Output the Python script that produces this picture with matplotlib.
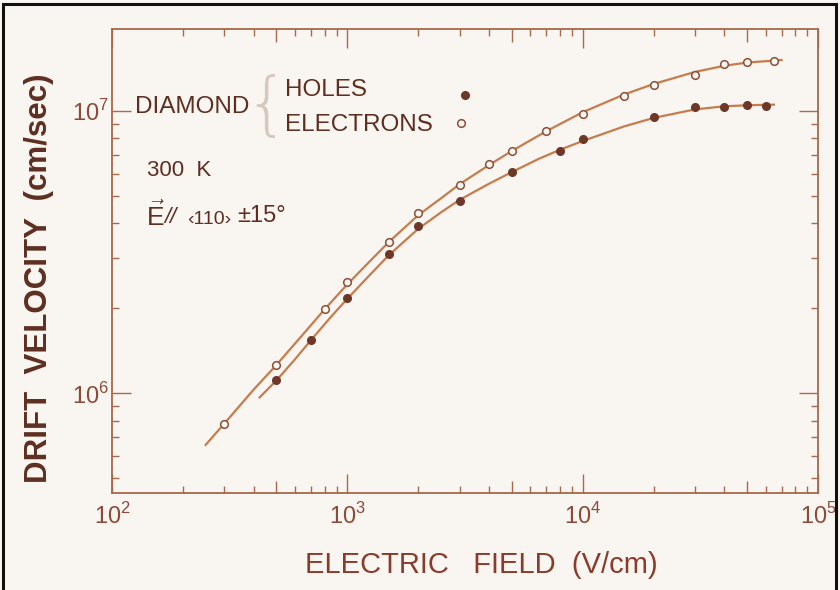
import matplotlib
matplotlib.use("Agg")
import matplotlib.pyplot as plt
from matplotlib.patches import Rectangle
from matplotlib.ticker import LogLocator, NullFormatter, FixedLocator, FixedFormatter

plt.rcParams['font.family'] = ['Liberation Sans', 'DejaVu Sans']
plt.rcParams['mathtext.fontset'] = 'custom'
plt.rcParams['mathtext.rm'] = 'Liberation Sans'
plt.rcParams['mathtext.sf'] = 'Liberation Sans'

# measured drift velocity (cm/sec) vs electric field (V/cm), diamond at 300 K
field_elec = [300, 500, 800, 1000, 1500, 2000, 3000, 4000, 5000, 7000,
              1e4, 1.5e4, 2e4, 3e4, 4e4, 5e4, 6.5e4]
v_elec = [7.8e5, 1.26e6, 1.99e6, 2.48e6, 3.44e6, 4.33e6, 5.48e6, 6.46e6, 7.2e6, 8.5e6,
          9.78e6, 1.13e7, 1.23e7, 1.34e7, 1.46e7, 1.49e7, 1.50e7]

field_hole = [500, 700, 1000, 1500, 2000, 3000, 5000, 8000, 1e4,
              2e4, 3e4, 4e4, 5e4, 6e4]
v_hole = [1.11e6, 1.54e6, 2.18e6, 3.11e6, 3.91e6, 4.81e6, 6.07e6, 7.23e6, 7.93e6,
          9.55e6, 1.03e7, 1.035e7, 1.05e7, 1.04e7]

# smooth curves drawn through each set
fit_field_elec = [250, 300, 400, 500, 650, 800, 1000, 1250, 1500, 2000, 2500, 3000,
                  4000, 5000, 7000, 1e4, 1.5e4, 2e4, 3e4, 4e4, 5e4, 7e4]
fit_v_elec = [6.56e5, 7.80e5, 1.03e6, 1.26e6, 1.62e6, 1.98e6, 2.43e6, 2.94e6, 3.43e6,
              4.27e6, 4.90e6, 5.50e6, 6.43e6, 7.21e6, 8.47e6, 9.89e6, 1.143e7,
              1.245e7, 1.374e7, 1.445e7, 1.483e7, 1.514e7]

fit_field_hole = [424, 500, 600, 700, 850, 1000, 1250, 1500, 2000, 2500, 3000, 4000,
                  5000, 6500, 8000, 1e4, 1.5e4, 2e4, 3e4, 4e4, 5e4, 6.5e4]
fit_v_hole = [9.66e5, 1.11e6, 1.32e6, 1.54e6, 1.86e6, 2.16e6, 2.63e6, 3.08e6, 3.82e6,
              4.37e6, 4.84e6, 5.52e6, 6.07e6, 6.76e6, 7.28e6, 7.82e6, 8.81e6, 9.44e6,
              1.012e7, 1.038e7, 1.047e7, 1.052e7]

xticks = [1e2, 1e3, 1e4, 1e5]
xtick_labels = [r'$10^{2}$', r'$10^{3}$', r'$10^{4}$', r'$10^{5}$']
yticks = [1e6, 1e7]
ytick_labels = [r'$10^{6}$', r'$10^{7}$']
half_decades = [5e2, 5e3, 5e4]

paper = '#f9f5f1'
ink = '#5e2f20'
line_col = '#c67c4c'
axis_col = '#a8684a'
label_col = '#8c4a38'

fig = plt.figure(figsize=(8.4, 5.9), dpi=100, facecolor=paper)
ax = fig.add_axes([112/840, 1 - 493/590, (818 - 112)/840, (493 - 29)/590])
ax.set_facecolor(paper)
ax.set_xscale('log')
ax.set_yscale('log')
ax.set_xlim(1e2, 1e5)
ax.set_ylim(4.43e5, 1.95e7)

ax.plot(fit_field_elec, fit_v_elec, color=line_col, lw=1.6, zorder=2)
ax.plot(fit_field_hole, fit_v_hole, color=line_col, lw=1.6, zorder=2)
ax.plot(field_elec, v_elec, 'o', ms=5.5, mfc=paper, mec='#8a5038', mew=1.1, zorder=3)
ax.plot(field_hole, v_hole, 'o', ms=5.5, mfc='#6e3828', mec='#6e3828', zorder=3)

for s in ax.spines.values():
    s.set_color(axis_col)
    s.set_linewidth(1.3)

ax.xaxis.set_major_locator(FixedLocator(xticks))
ax.xaxis.set_major_formatter(FixedFormatter(xtick_labels))
ax.yaxis.set_major_locator(FixedLocator(yticks))
ax.yaxis.set_major_formatter(FixedFormatter(ytick_labels))
ax.xaxis.set_minor_locator(LogLocator(base=10, subs=(2, 3, 4, 6, 7, 8, 9)))
ax.yaxis.set_minor_locator(LogLocator(base=10, subs=(2, 3, 4, 5, 6, 7, 8, 9)))
ax.xaxis.set_minor_formatter(NullFormatter())
ax.yaxis.set_minor_formatter(NullFormatter())
ax.tick_params(which='both', direction='in', top=True, right=True,
               color=axis_col, width=1.0, labelcolor=label_col, labelsize=17)
ax.tick_params(which='major', length=14)
ax.tick_params(which='minor', length=5)
ax.tick_params(axis='x', which='major', pad=7)
ax.tick_params(axis='y', which='major', pad=2)

# longer ticks at 5 x 10^n on top and bottom
for loc in ('bottom', 'top'):
    sec = ax.secondary_xaxis(loc)
    sec.set_xticks(half_decades)
    sec.set_xticklabels([])
    sec.xaxis.set_minor_locator(FixedLocator([]))
    sec.tick_params(which='major', direction='in', length=9, width=1.0, color=axis_col)
    for s in sec.spines.values():
        s.set_visible(False)

fig.text(39/840, 1 - 278/590, 'DRIFT  VELOCITY  (cm/sec)', rotation=90,
         ha='center', va='center', fontsize=22.5, color=ink, fontweight='bold')
fig.text(481/840, 1 - 565/590, 'ELECTRIC   FIELD  (V/cm)', ha='center', va='center',
         fontsize=21, color='#8a3c2c')

fig.text(135/840, 1 - 107/590, 'DIAMOND', ha='left', va='center', fontsize=17.5, color=ink)
fig.text(266/840, 1 - 108/590, '{', ha='center', va='center', fontsize=50,
         color='#d6c8bf', family='DejaVu Sans', fontweight='ultralight')
fig.text(285/840, 1 - 90/590, 'HOLES', ha='left', va='center', fontsize=17.5, color=ink)
fig.text(285/840, 1 - 125/590, 'ELECTRONS', ha='left', va='center', fontsize=17.5, color=ink)
fig.lines.append(plt.Line2D([465/840], [1 - 95/590], transform=fig.transFigure, marker='o',
                            ms=5.5, mfc='#6e3828', mec='#6e3828', ls='none'))
fig.lines.append(plt.Line2D([461/840], [1 - 123/590], transform=fig.transFigure, marker='o',
                            ms=5.5, mfc=paper, mec='#8a5038', mew=1.1, ls='none'))

fig.text(147/840, 1 - 171/590, '300  K', ha='left', va='center', fontsize=16, color=ink)
fig.text(146/840, 1 - 216/590, r'$\vec{\mathsf{E}}$', ha='left', va='center',
         fontsize=19, color=ink)
fig.text(164/840, 1 - 218/590, '//', ha='left', va='center', fontsize=16, color=ink,
         style='italic')
fig.text(187/840, 1 - 219/590, '\u2039110\u203a', ha='left', va='center', fontsize=14,
         color=ink)
fig.text(237/840, 1 - 216/590, '\u00b115\u00b0', ha='left', va='center', fontsize=17,
         color=ink)

# dark frame round the sheet
fig.patches.append(Rectangle((3/840, -0.02), 833/840, 1.02 - 4/590, transform=fig.transFigure,
                             fill=False, ec='#111111', lw=2.2))

fig.savefig('out.png', dpi=100, facecolor=paper)
